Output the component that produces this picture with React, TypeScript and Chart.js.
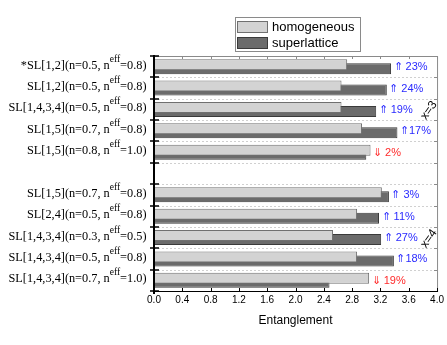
import React, { useEffect, useRef } from 'react';
import Chart from 'chart.js/auto';

const W = 447;
const H = 345;

// ---- data ----
const categories = ['*SL[1,2]', 'SL[1,2]', 'SL[1,4,3,4]', 'SL[1,5]', 'SL[1,5]', '', 'SL[1,5]', 'SL[2,4]', 'SL[1,4,3,4]', 'SL[1,4,3,4]', 'SL[1,4,3,4]'];
const nValues = ['0.5', '0.5', '0.5', '0.7', '0.8', '', '0.7', '0.5', '0.3', '0.5', '0.7'];
const nEffValues = ['0.8', '0.8', '0.8', '0.8', '1.0', '', '0.8', '0.8', '0.5', '0.8', '1.0'];
const homogeneous = [2.73, 2.65, 2.65, 2.94, 3.06, null, 3.22, 2.87, 2.53, 2.87, 3.04];
const superlattice = [3.35, 3.29, 3.14, 3.44, 3.0, null, 3.32, 3.18, 3.21, 3.39, 2.48];
const changeLabels = ['⇑ 23%', '⇑ 24%', '⇑ 19%', '⇑17%', '⇓ 2%', '', '⇑ 3%', '⇑ 11%', '⇑ 27%', '⇑18%', '⇓ 19%'];
const changeUp = [true, true, true, true, false, true, true, true, true, true, false];
const groupLabels = ['x=3', 'x=4'];
const groupRows = [2, 8];
const xTickValues = [0, 0.4, 0.8, 1.2, 1.6, 2.0, 2.4, 2.8, 3.2, 3.6, 4.0];
const seriesNames = ['homogeneous', 'superlattice'];
const xTitle = 'Entanglement';

const LIGHT = '#d3d3d3';
const LIGHT_BORDER = '#707070';
const DARK = '#6b6b6b';
const DARK_BORDER = '#3a3a3a';

export default function App() {
  const ref = useRef<HTMLCanvasElement>(null);
  useEffect(() => {
    const canvas = ref.current!;
    const rowLabels = categories.map((c, i) => (c ? `${c}(n=${nValues[i]}, neff=${nEffValues[i]})` : ''));

    const decor = {
      id: 'decor',
      beforeDatasetsDraw(chart: any) {
        const { ctx, chartArea } = chart;
        const ys = chart.scales.y;
        const n = categories.length;
        const slot = (chartArea.bottom - chartArea.top) / n;
        ctx.save();
        ctx.strokeStyle = '#d0d0d0';
        ctx.lineWidth = 1;
        ctx.setLineDash([2, 2]);
        for (let i = 1; i < n; i++) {
          const y = Math.round(ys.getPixelForValue(i) - slot / 2) + 0.5;
          ctx.beginPath();
          ctx.moveTo(chartArea.left, y);
          ctx.lineTo(chartArea.right, y);
          ctx.stroke();
        }
        ctx.restore();
      },
      afterDatasetsDraw(chart: any) {
        const { ctx, chartArea } = chart;
        const { left, right, top, bottom } = chartArea;
        const xs = chart.scales.x;
        const ys = chart.scales.y;
        const n = categories.length;
        const slot = (bottom - top) / n;
        ctx.save();
        // top & right borders
        ctx.strokeStyle = '#8a8a8a';
        ctx.lineWidth = 1;
        ctx.beginPath();
        ctx.moveTo(left, top + 0.5);
        ctx.lineTo(right + 0.5, top + 0.5);
        ctx.lineTo(right + 0.5, bottom);
        ctx.stroke();
        ctx.beginPath();
        xTickValues.forEach((v) => {
          const x = Math.round(xs.getPixelForValue(v)) + 0.5;
          ctx.moveTo(x, top);
          ctx.lineTo(x, top + 3);
        });
        for (let i = 0; i <= n; i++) {
          const y = Math.round(ys.getPixelForValue(i) - slot / 2) + 0.5;
          ctx.moveTo(right, y);
          ctx.lineTo(right - 3, y);
        }
        ctx.stroke();
        // bottom axis
        ctx.strokeStyle = '#000';
        ctx.beginPath();
        ctx.moveTo(left, bottom + 0.5);
        ctx.lineTo(right + 1, bottom + 0.5);
        xTickValues.forEach((v) => {
          const x = Math.round(xs.getPixelForValue(v)) + 0.5;
          ctx.moveTo(x, bottom);
          ctx.lineTo(x, bottom - 3);
        });
        ctx.stroke();
        // left axis
        ctx.lineWidth = 2;
        ctx.beginPath();
        ctx.moveTo(left, top - 1);
        ctx.lineTo(left, bottom + 3);
        ctx.stroke();
        ctx.lineWidth = 1.5;
        ctx.beginPath();
        for (let i = 0; i <= n; i++) {
          const y = Math.round(ys.getPixelForValue(i) - slot / 2);
          ctx.moveTo(left - 4, y);
          ctx.lineTo(left + 5, y);
        }
        ctx.stroke();

        // y labels with superscript
        ctx.fillStyle = '#000';
        ctx.textBaseline = 'alphabetic';
        ctx.textAlign = 'left';
        const mainFont = '12.3px "Liberation Serif", "Times New Roman", serif';
        const supFont = '9.5px "Liberation Serif", "Times New Roman", serif';
        const xEnd = 146.5;
        categories.forEach((c, i) => {
          if (!c) return;
          const pre = `${c}(n=${nValues[i]}, n`;
          const sup = 'eff';
          const post = `=${nEffValues[i]})`;
          ctx.font = mainFont;
          const wPre = ctx.measureText(pre).width;
          const wPost = ctx.measureText(post).width;
          ctx.font = supFont;
          const wSup = ctx.measureText(sup).width;
          const cy = ys.getPixelForValue(i);
          let x = xEnd - (wPre + wSup + wPost);
          ctx.font = mainFont;
          ctx.fillText(pre, x, cy + 2);
          x += wPre;
          ctx.font = supFont;
          ctx.fillText(sup, x, cy - 5);
          x += wSup;
          ctx.font = mainFont;
          ctx.fillText(post, x, cy + 2);
        });

        // percentage labels
        ctx.font = '11px "Liberation Sans", Arial, sans-serif';
        ctx.textBaseline = 'middle';
        changeLabels.forEach((t, i) => {
          if (!t) return;
          const h = homogeneous[i] as number;
          const s = superlattice[i] as number;
          const x = xs.getPixelForValue(Math.max(h, s)) + 2.5;
          ctx.fillStyle = changeUp[i] ? '#2a2aff' : '#ff2a2a';
          ctx.fillText(t, x, ys.getPixelForValue(i) + 0.5);
        });

        // rotated group labels
        ctx.fillStyle = '#000';
        ctx.font = '12px "Liberation Sans", Arial, sans-serif';
        ctx.textAlign = 'center';
        groupLabels.forEach((t, k) => {
          ctx.save();
          ctx.translate(429, ys.getPixelForValue(groupRows[k]) + 1);
          ctx.rotate((-55 * Math.PI) / 180);
          ctx.fillText(t, 0, 0);
          ctx.restore();
        });

        // x title
        ctx.font = '12px "Liberation Sans", Arial, sans-serif';
        ctx.textAlign = 'center';
        ctx.textBaseline = 'middle';
        ctx.fillText(xTitle, (left + right) / 2, 321);

        // legend
        ctx.strokeStyle = '#8a8a8a';
        ctx.lineWidth = 1;
        ctx.strokeRect(235.5, 17.5, 125, 34);
        const sw = [
          { y: 21.5, fill: LIGHT, stroke: LIGHT_BORDER },
          { y: 37.5, fill: DARK, stroke: DARK_BORDER },
        ];
        sw.forEach((s, k) => {
          ctx.fillStyle = s.fill;
          ctx.fillRect(237.5, s.y, 30, 11);
          ctx.strokeStyle = s.stroke;
          ctx.strokeRect(237.5, s.y, 30, 11);
          ctx.fillStyle = '#000';
          ctx.font = '13px "Liberation Sans", Arial, sans-serif';
          ctx.textAlign = 'left';
          ctx.textBaseline = 'middle';
          ctx.fillText(seriesNames[k], 272, s.y + 5.5);
        });
        ctx.restore();
      },
    };

    const chart = new Chart(canvas, {
      type: 'bar',
      data: {
        labels: rowLabels,
        datasets: [
          { label: seriesNames[0], data: homogeneous, backgroundColor: LIGHT, borderColor: LIGHT_BORDER, borderWidth: 1 },
          { label: seriesNames[1], data: superlattice, backgroundColor: DARK, borderColor: DARK_BORDER, borderWidth: 1 },
        ],
      },
      options: {
        indexAxis: 'y',
        responsive: false,
        maintainAspectRatio: false,
        animation: false,
        categoryPercentage: 0.3745,
        barPercentage: 2.75,
        layout: { padding: { top: 56, right: 8, left: 0, bottom: 0 } },
        plugins: { legend: { display: false }, tooltip: { enabled: false } },
        scales: {
          x: {
            min: 0,
            max: 4,
            afterBuildTicks: (s: any) => {
              s.ticks = xTickValues.map((v) => ({ value: v }));
            },
            ticks: {
              callback: (v: any) => Number(v).toFixed(1),
              font: { family: '"Liberation Sans", Arial, sans-serif', size: 10 },
              color: '#000',
              padding: 3,
              maxRotation: 0,
              autoSkip: false,
            },
            grid: { display: false, drawTicks: false },
            border: { display: false },
            afterFit: (s: any) => {
              s.height = 54;
            },
          },
          y: {
            ticks: { display: false },
            grid: { display: false, drawTicks: false },
            border: { display: false },
            afterFit: (s: any) => {
              s.width = 154;
            },
          },
        },
      } as any,
      plugins: [decor],
    });
    return () => chart.destroy();
  }, []);
  return (
    <div style={{ position: 'fixed', left: 0, top: 0, width: W, height: H, background: '#fff' }}>
      <canvas ref={ref} width={W} height={H} style={{ display: 'block', width: W, height: H }} />
    </div>
  );
}
